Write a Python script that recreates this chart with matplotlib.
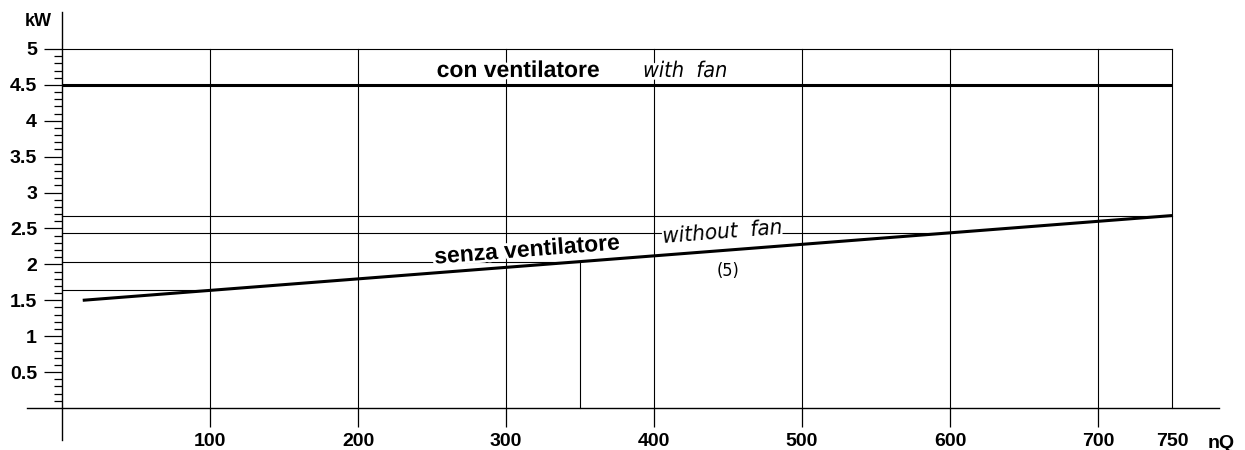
import numpy as np
import matplotlib
matplotlib.use('Agg')
import matplotlib.pyplot as plt
import matplotlib.patheffects as pe

# curve data
curve_nq = [14, 750]
curve_kw = [1.50, 2.68]
fan_kw = 4.5

# reading lines: nQ -> kW on the "senza ventilatore" line
read_nq = [100, 350, 600, 750]
read_kw = [1.64, 2.03, 2.44, 2.68]

grid_nq = [100, 200, 300, 400, 500, 600, 700, 750]
x_ticks = [100, 200, 300, 400, 500, 600, 700, 750]
x_labels = ['100', '200', '300', '400', '500', '600', '700', '750']
y_ticks = [0.5, 1, 1.5, 2, 2.5, 3, 3.5, 4, 4.5, 5]
y_labels = ['0.5', '1', '1.5', '2', '2.5', '3', '3.5', '4', '4.5', '5']
y_top = 5

fig = plt.figure(figsize=(12.45, 4.5), dpi=100)
ax = fig.add_axes([0, 0, 1, 1])
ax.set_xlim(-41.9, 799.3)
ax.set_ylim(-0.585, 5.682)

bold = dict(family=['Liberation Sans', 'DejaVu Sans'], fontweight='bold')
cad = dict(family=['DejaVu Sans'], style='oblique', fontstretch='condensed')

# grid
for x in grid_nq:
    ax.plot([x, x], [0, y_top], color='black', lw=0.8, zorder=1)
ax.plot([0, 750], [y_top, y_top], color='black', lw=0.8, zorder=1)

# reading lines
for x, y in zip(read_nq, read_kw):
    ax.plot([0, x], [y, y], color='black', lw=0.8, zorder=1)
ax.plot([350, 350], [0, read_kw[1]], color='black', lw=0.8, zorder=1)

# main lines
ax.plot([0, 750], [fan_kw, fan_kw], color='black', lw=2.2, solid_capstyle='butt', zorder=3)
ax.plot(curve_nq, curve_kw, color='black', lw=2.2, solid_capstyle='butt', zorder=3)

# spines / axes
for s in ['top', 'right']:
    ax.spines[s].set_visible(False)
ax.spines['left'].set_position(('data', 0))
ax.spines['bottom'].set_position(('data', 0))
ax.spines['left'].set_bounds(-0.446, 5.515)
ax.spines['bottom'].set_bounds(-23.6, 782)
ax.spines['left'].set_linewidth(1.0)
ax.spines['bottom'].set_linewidth(1.0)

ax.set_yticks(y_ticks)
ax.set_yticklabels(y_labels, fontsize=14, **bold)
ax.set_yticks(np.arange(1, 50) / 10, minor=True)
ax.tick_params(axis='y', which='major', direction='out', length=13, width=0.9, pad=5)
ax.tick_params(axis='y', which='minor', direction='out', length=6, width=0.9)

ax.set_xticks(x_ticks)
ax.set_xticklabels(x_labels, fontsize=14, **bold)
ax.tick_params(axis='x', which='major', direction='out', length=14, width=0.9, pad=4)
ax.xaxis.get_major_ticks()[-1].tick1line.set_visible(False)

ax.text(-16.2, 5.38, 'kW', ha='center', va='center', fontsize=13, **bold)
ax.text(783, -0.49, 'nQ', ha='center', va='center', fontsize=14, **bold)

# labels
white = [pe.withStroke(linewidth=4, foreground='white')]
ax.text(308, 4.61, 'con ventilatore', ha='center', va='baseline', fontsize=16.5,
        path_effects=white, zorder=4, **bold)
ax.text(421, 4.61, 'with  fan', ha='center', va='baseline', fontsize=15.5,
        path_effects=white, zorder=4, **cad)

p0 = ax.transData.transform((curve_nq[0], curve_kw[0]))
p1 = ax.transData.transform((curve_nq[1], curve_kw[1]))
ang = np.degrees(np.arctan2(p1[1] - p0[1], p1[0] - p0[0]))

ax.text(314, 2.20, 'senza ventilatore', ha='center', va='center', fontsize=16.5,
        rotation=ang, rotation_mode='anchor', path_effects=white, zorder=4, **bold)
ax.text(446, 2.45, 'without  fan', ha='center', va='center', fontsize=16,
        rotation=ang, rotation_mode='anchor', zorder=4,
        bbox=dict(facecolor='white', edgecolor='none', pad=0), **cad)
ax.text(450, 1.91, '(5)', ha='center', va='center', fontsize=13,
        family=['DejaVu Sans'], fontstretch='condensed')

fig.savefig('out.png', dpi=100)
